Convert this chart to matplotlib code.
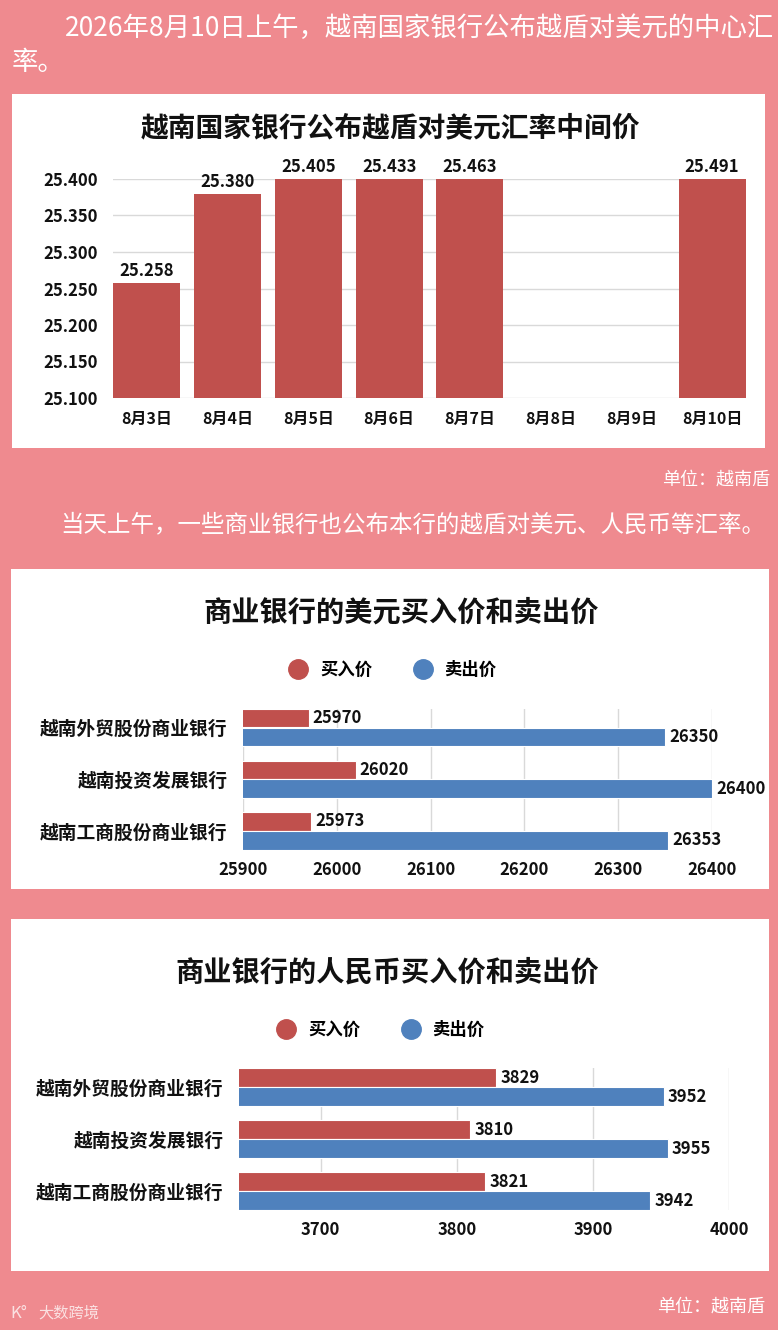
import matplotlib
matplotlib.use("Agg")
import matplotlib.pyplot as plt
from matplotlib.patches import Rectangle
from matplotlib.lines import Line2D

plt.rcParams['font.family'] = ['Noto Sans CJK SC', 'DejaVu Sans']

# data
days = ['8月3日', '8月4日', '8月5日', '8月6日', '8月7日', '8月8日', '8月9日', '8月10日']
mid_rate = [25.258, 25.380, 25.405, 25.433, 25.463, None, None, 25.491]
mid_ticks = [25.100, 25.150, 25.200, 25.250, 25.300, 25.350, 25.400]

banks = ['越南外贸股份商业银行', '越南投资发展银行', '越南工商股份商业银行']
usd_buy = [25970, 26020, 25973]
usd_sell = [26350, 26400, 26353]
usd_ticks = [25900, 26000, 26100, 26200, 26300, 26400]
cny_buy = [3829, 3810, 3821]
cny_sell = [3952, 3955, 3942]
cny_ticks = [3700, 3800, 3900, 4000]

RED = '#C0504D'
BLUE = '#4F81BD'
PINK = '#EF8A8F'
GRID = '#d9d9d9'
W, H = 778, 1330


def fx(x):
    return x / W


def fy(y):
    return 1 - y / H


def box(x0, y0, x1, y1):
    # rectangle in pixel coords (top-left origin)
    return [fx(x0), fy(y1), (x1 - x0) / W, (y1 - y0) / H]


fig = plt.figure(figsize=(W / 100, H / 100), dpi=100, facecolor=PINK)

# white panels
for (x0, y0, x1, y1) in [(12, 94, 765, 448), (11, 569, 769, 889), (11, 919, 769, 1271)]:
    fig.patches.append(Rectangle((fx(x0), fy(y1)), (x1 - x0) / W, (y1 - y0) / H,
                                 transform=fig.transFigure, facecolor='white',
                                 edgecolor='none', zorder=-10))

# header texts
fig.text(fx(65), fy(28), '2026年8月10日上午，越南国家银行公布越盾对美元的中心汇',
         color='white', fontsize=19, va='center', ha='left')
fig.text(fx(12), fy(62), '率。', color='white', fontsize=19, va='center', ha='left')
fig.text(fx(770), fy(480), '单位：越南盾', color='white', fontsize=13, va='center', ha='right')
fig.text(fx(60), fy(525), '当天上午，一些商业银行也公布本行的越盾对美元、人民币等汇率。',
         color='white', fontsize=16.9, va='center', ha='left')
fig.text(fx(765), fy(1307), '单位：越南盾', color='white', fontsize=13, va='center', ha='right')
fig.text(fx(10), fy(1313), 'K°', color='white', alpha=0.75, fontsize=12, va='center', ha='left')
fig.text(fx(38), fy(1313), '大数跨境', color='white', alpha=0.75, fontsize=11, va='center', ha='left')

# ---- chart 1: central rate
fig.text(fx(390), fy(128), '越南国家银行公布越盾对美元汇率中间价', fontsize=20,
         fontweight='bold', ha='center', va='center', color='#111111')
ax1 = fig.add_axes(box(113, 179, 746, 398))
for i, v in enumerate(mid_rate):
    if v is None:
        continue
    ax1.bar(i, v, width=0.83, color=RED, zorder=2)
    ax1.annotate(f'{v:.3f}', xy=(i, min(v, 25.4)), xytext=(0, 2), textcoords='offset points',
                 ha='center', va='bottom', fontsize=12, fontweight='bold',
                 color='#111111', annotation_clip=False)
ax1.set_xlim(-0.42, len(days) - 0.58)
ax1.set_ylim(25.1, 25.4)
ax1.set_yticks(mid_ticks)
ax1.set_yticklabels([f'{t:.3f}' for t in mid_ticks], fontsize=12, fontweight='bold')
ax1.set_xticks(range(len(days)))
ax1.set_xticklabels(days, fontsize=11.5, fontweight='bold')
ax1.tick_params(length=0, colors='#111111')
ax1.tick_params(axis='y', pad=11)
ax1.tick_params(axis='x', pad=9)
ax1.yaxis.grid(True, color=GRID, lw=1)
ax1.set_axisbelow(True)
for s in ax1.spines.values():
    s.set_visible(False)
ax1.patch.set_alpha(0)


def hbar_chart(rect, title, title_xy, legend_xy, buy, sell, ticks, xlim):
    fig.text(fx(title_xy[0]), fy(title_xy[1]), title, fontsize=20.3, fontweight='bold',
             ha='center', va='center', color='#111111')
    ax = fig.add_axes(rect)
    ys = list(range(len(banks)))
    off = 0.183
    ax.barh([y - off for y in ys], buy, height=0.36, color=RED, edgecolor='white', lw=0.8, zorder=2)
    ax.barh([y + off for y in ys], sell, height=0.36, color=BLUE, edgecolor='white', lw=0.8, zorder=2)
    for y, b, s in zip(ys, buy, sell):
        ax.annotate(str(b), xy=(b, y - off), xytext=(3, 0), textcoords='offset points',
                    ha='left', va='center', fontsize=12, fontweight='bold',
                    color='#111111', annotation_clip=False)
        ax.annotate(str(s), xy=(s, y + off), xytext=(3, 0), textcoords='offset points',
                    ha='left', va='center', fontsize=12, fontweight='bold',
                    color='#111111', annotation_clip=False)
    ax.set_xlim(*xlim)
    ax.set_ylim(2.36, -0.37)
    ax.set_xticks(ticks)
    ax.set_xticklabels([str(t) for t in ticks], fontsize=12, fontweight='bold')
    ax.set_yticks(ys)
    ax.set_yticklabels(banks, fontsize=13.5, fontweight='bold')
    ax.tick_params(length=0, colors='#111111')
    ax.tick_params(axis='y', pad=11)
    ax.tick_params(axis='x', pad=8)
    ax.xaxis.grid(True, color=GRID, lw=1)
    ax.set_axisbelow(True)
    for sp in ax.spines.values():
        sp.set_visible(False)
    ax.patch.set_alpha(0)
    handles = [Line2D([], [], ls='none', marker='o', ms=14, color=RED),
               Line2D([], [], ls='none', marker='o', ms=14, color=BLUE)]
    fig.legend(handles, ['买入价', '卖出价'], loc='center',
               bbox_to_anchor=(fx(legend_xy[0]), fy(legend_xy[1])), ncol=2,
               frameon=False, handlelength=1, handletextpad=0.75, columnspacing=2.4,
               prop={'size': 12.5, 'weight': 'bold'})
    return ax


hbar_chart(box(243, 708.5, 712, 849.5), '商业银行的美元买入价和卖出价', (401, 613), (393, 670),
           usd_buy, usd_sell, usd_ticks, (25900, 26400))
hbar_chart(box(239, 1068, 729, 1210), '商业银行的人民币买入价和卖出价', (387, 973), (381, 1030),
           cny_buy, cny_sell, cny_ticks, (3640, 4000))

fig.savefig('out.png', dpi=100, facecolor=PINK)
